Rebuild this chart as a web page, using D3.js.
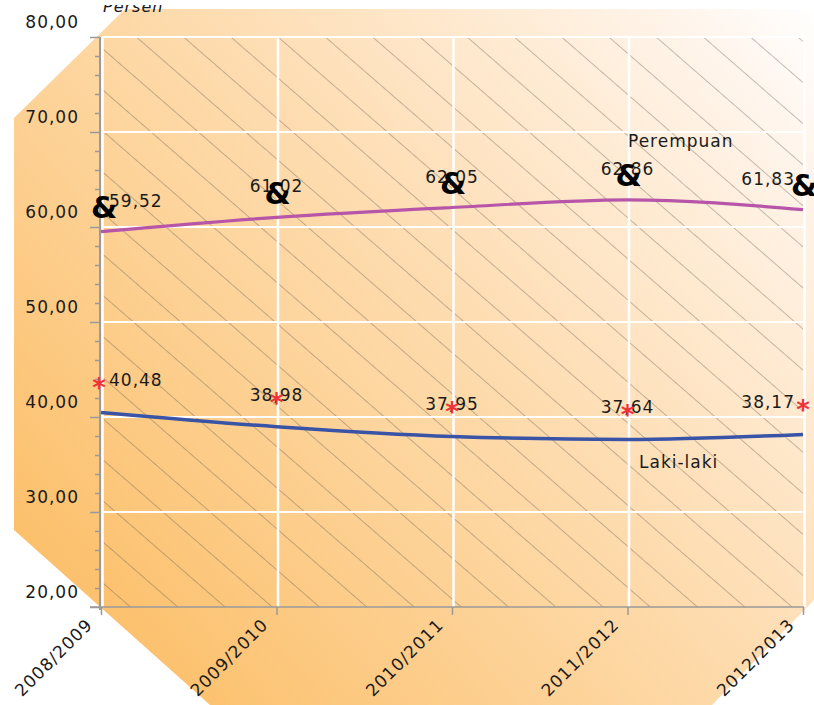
<!DOCTYPE html>
<html><head><meta charset="utf-8">
<script src="https://cdn.jsdelivr.net/npm/d3@7"></script>
<style>
body{margin:0;background:#fff}
svg{display:block}
text{font-family:"DejaVu Sans",Verdana,sans-serif}
</style>
</head><body>
<svg id="c" width="814" height="705"></svg>
<script>
const categories = ["2008/2009","2009/2010","2010/2011","2011/2012","2012/2013"];
const perempuan = [59.52, 61.02, 62.05, 62.86, 61.83];
const lakiLaki = [40.48, 38.98, 37.95, 37.64, 38.17];
const yMajorTicks = [20, 30, 40, 50, 60, 70, 80];
const yMinorTicks = [22, 24, 26, 28, 32, 34, 36, 38, 42, 44, 46, 48, 52, 54, 56, 58, 62, 64, 66, 68, 72, 74, 76, 78];
const seriesNames = ["Perempuan", "Laki-laki"];
const yTitle = "Persen";

const svg = d3.select("#c");
const W = 814, H = 705;
const pLeft = 101, pRight = 803, pTop = 37, pBottom = 607;
const textCol = "#1a1a1a";

const x = d3.scalePoint().domain(categories).range([pLeft, pRight]);
const y = d3.scaleLinear().domain([20, 80]).range([pBottom, pTop]);
const loc = d3.formatLocale({decimal: ",", thousands: ".", grouping: [3], currency: ["", ""]});
const fmt = loc.format(".2f");

const defs = svg.append("defs");
const grad = defs.append("linearGradient").attr("id", "bg")
  .attr("gradientUnits", "userSpaceOnUse")
  .attr("x1", 0).attr("y1", H).attr("x2", W).attr("y2", 0);
[[0, "#FBB75B"], [0.1, "#FCBF69"], [0.44, "#FDD59E"], [0.56, "#FEDCB0"], [0.9, "#FFF5EC"], [1, "#FFFFFF"]]
  .forEach(([o, c]) => grad.append("stop").attr("offset", o).attr("stop-color", c));

const pat = defs.append("pattern").attr("id", "hatch")
  .attr("patternUnits", "userSpaceOnUse").attr("width", 20).attr("height", 31)
  .attr("patternTransform", "rotate(41)");
pat.append("line").attr("x1", 0).attr("y1", 0.5).attr("x2", 20).attr("y2", 0.5)
  .attr("stroke", "#5a5048").attr("stroke-width", 0.6).attr("stroke-opacity", 0.6);

defs.append("clipPath").attr("id", "topclip").append("rect")
  .attr("x", 0).attr("y", 5).attr("width", W).attr("height", H);

// background polygon
svg.append("polygon")
  .attr("points", [[14,118],[125,9],[814,9],[814,600],[712,705],[210,705],[14,530]].map(p => p.join(",")).join(" "))
  .attr("fill", "url(#bg)");

// hatch
svg.append("rect").attr("x", pLeft).attr("y", pTop).attr("width", pRight - pLeft).attr("height", pBottom - pTop)
  .attr("fill", "url(#hatch)");

// grid
const grid = svg.append("g");
grid.selectAll("line.h").data(yMajorTicks.filter(d => d > 20)).join("line")
  .attr("x1", pLeft + 1).attr("x2", pRight + 2).attr("y1", d => y(d)).attr("y2", d => y(d))
  .attr("stroke", "#fff").attr("stroke-width", 2);
grid.selectAll("line.v").data(categories).join("line")
  .attr("x1", d => x(d) + 1.5).attr("x2", d => x(d) + 1.5).attr("y1", pTop).attr("y2", pBottom)
  .attr("stroke", "#fff").attr("stroke-width", 2.5);

// axes
const axisCol = "#9a9a9a";
const yAx = svg.append("g").attr("transform", `translate(${pLeft - 1},0)`)
  .call(d3.axisLeft(y).tickValues(yMajorTicks).tickSize(10).tickPadding(11).tickFormat(fmt));
yAx.select(".domain").attr("stroke", axisCol).attr("stroke-width", 2).attr("d", `M0,${pTop}V${pBottom + 3}`);
yAx.selectAll(".tick line").attr("stroke", axisCol).attr("stroke-width", 1.5);
yAx.selectAll(".tick text").attr("dy", "-0.55em").style("font-size", "17px").style("letter-spacing", "1px")
  .style("font-family", '"DejaVu Sans",Verdana,sans-serif').style("fill", textCol);
const yMin = svg.append("g").attr("transform", `translate(${pLeft - 1},0)`)
  .call(d3.axisLeft(y).tickValues(yMinorTicks).tickSize(5).tickFormat(""));
yMin.select(".domain").remove();
yMin.selectAll(".tick line").attr("stroke", axisCol).attr("stroke-width", 1.5);

const xAx = svg.append("g").attr("transform", `translate(0,${pBottom})`)
  .call(d3.axisBottom(x).tickSize(8).tickFormat(d => d));
xAx.select(".domain").attr("stroke", axisCol).attr("stroke-width", 1.5).attr("d", `M${pLeft - 11},0H${pRight + 1}`);
xAx.selectAll(".tick line").attr("stroke", axisCol).attr("stroke-width", 1.5);
xAx.selectAll(".tick text").attr("x", 0).attr("y", 0).attr("dy", 0)
  .attr("text-anchor", "end").attr("transform", "translate(-8,19) rotate(-45)")
  .style("font-size", "17px").style("letter-spacing", "1px")
  .style("font-family", '"DejaVu Sans",Verdana,sans-serif').style("fill", textCol);

// title
svg.append("text").attr("x", 103).attr("y", 12).attr("clip-path", "url(#topclip)")
  .style("font-size", "16px").style("font-style", "italic").style("letter-spacing", "1px")
  .style("fill", textCol).text(yTitle);

// lines
const line = d3.line().x((d, i) => x(categories[i])).y(d => y(d)).curve(d3.curveMonotoneX);
svg.append("path").datum(perempuan).attr("d", line).attr("fill", "none")
  .attr("stroke", "#B756A9").attr("stroke-width", 3.2);
svg.append("path").datum(lakiLaki).attr("d", line).attr("fill", "none")
  .attr("stroke", "#3953A6").attr("stroke-width", 3.5);

// data labels
const nCat = categories.length;
function labelAttrs(sel) {
  sel.attr("text-anchor", (d, i) => i === 0 ? "start" : i === nCat - 1 ? "end" : "middle")
     .attr("x", (d, i) => x(categories[i]) + (i === 0 ? 8 : i === nCat - 1 ? -8 : 0));
}
svg.append("g").selectAll("text").data(perempuan).join("text")
  .call(labelAttrs)
  .attr("y", d => y(d) - 31).attr("dominant-baseline", "central")
  .style("font-size", "17px").style("letter-spacing", "1px").style("fill", textCol).text(d => fmt(d));
svg.append("g").selectAll("text").data(lakiLaki).join("text")
  .call(labelAttrs)
  .attr("y", d => y(d) - 32).attr("dominant-baseline", "central")
  .style("font-size", "17px").style("letter-spacing", "1px").style("fill", textCol).text(d => fmt(d));

// markers
svg.append("g").selectAll("text").data(perempuan).join("text")
  .attr("x", (d, i) => x(categories[i]) + (i === 0 ? 3 : 1)).attr("y", d => y(d) - 24)
  .attr("text-anchor", "middle").attr("dominant-baseline", "central")
  .style("font-size", "30px").style("font-weight", "bold").style("fill", "#000").text("&");
svg.append("g").selectAll("text").data(lakiLaki).join("text")
  .attr("x", (d, i) => x(categories[i]) - (i === 0 ? 2 : 0)).attr("y", d => y(d) - 32 + 8)
  .attr("text-anchor", "middle").attr("dominant-baseline", "central")
  .style("font-size", "26px").style("font-weight", "bold").style("fill", "#EE3338").text("*");

// series names
svg.append("text").attr("x", 628).attr("y", 141).attr("dominant-baseline", "central")
  .style("font-size", "17px").style("letter-spacing", "1px").style("fill", textCol).text(seriesNames[0]);
svg.append("text").attr("x", 639).attr("y", 462).attr("dominant-baseline", "central")
  .style("font-size", "17px").style("letter-spacing", "1px").style("fill", textCol).text(seriesNames[1]);
</script>
</body></html>
